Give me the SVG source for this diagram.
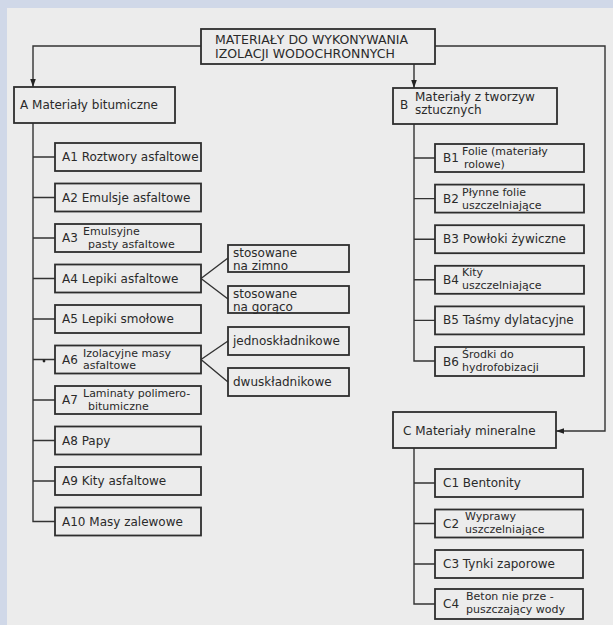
<svg xmlns="http://www.w3.org/2000/svg" width="613" height="625" viewBox="0 0 613 625">
<defs>
<style>
.bx{fill:none;stroke:#2e2e2e;stroke-width:1.8}
.ln{fill:none;stroke:#333;stroke-width:1.4}
text{font-family:"DejaVu Sans","Liberation Sans",sans-serif;fill:#2a2a2a;font-size:12px}
.s{font-size:11px}
.t{font-size:12.5px}
</style>
<marker id="ar" viewBox="0 0 10 10" refX="10" refY="5" markerWidth="8" markerHeight="8" markerUnits="userSpaceOnUse" orient="auto">
<path d="M0,1.5 L10,5 L0,8.5 Z" fill="#222"/>
</marker>
</defs>
<rect x="0" y="0" width="613" height="625" fill="#d0d8e8"/>
<rect x="7" y="8" width="606" height="617" fill="#ececec"/>

<g id="connectors">
<path class="ln" d="M201,46 H33 V87" marker-end="url(#ar)"/>
<path class="ln" d="M435,46 H605 V431 H556" marker-end="url(#ar)"/>
<path class="ln" d="M414,64 V88" marker-end="url(#ar)"/>
<path class="ln" d="M33,123 V521.5 H55"/>
<path class="ln" d="M33,157 H55 M33,197.5 H55 M33,238 H55 M33,278.5 H55 M33,319 H55 M33,359.5 H55 M33,400 H55 M33,440.5 H55 M33,481 H55"/>
<circle cx="44" cy="361" r="1.4" fill="#222"/>
<path class="ln" d="M201,278.5 L228,258 M201,278.5 L228,299"/>
<path class="ln" d="M201,359.5 L228,341 M201,359.5 L228,382"/>
<path class="ln" d="M414,124 V361 H435"/>
<path class="ln" d="M414,158 H435 M414,198.6 H435 M414,239.2 H435 M414,279.8 H435 M414,320.4 H435"/>
<path class="ln" d="M414,448 V604 H435"/>
<path class="ln" d="M414,483 H435 M414,523.5 H435 M414,564 H435"/>
</g>

<g id="root"><rect class="bx" x="201" y="29" width="234" height="35"/>
<text class="t" x="215" y="44">MATERIAŁY DO WYKONYWANIA</text>
<text class="t" x="215" y="58">IZOLACJI WODOCHRONNYCH</text></g>

<g id="A"><rect class="bx" x="14" y="87" width="161" height="36"/>
<text x="20" y="109">A Materiały bitumiczne</text></g>

<g id="A1"><rect class="bx" x="55" y="143" width="146" height="28"/>
<text x="62" y="161">A1 Roztwory asfaltowe</text></g>
<g id="A2"><rect class="bx" x="55" y="183.5" width="146" height="28"/>
<text x="62" y="202">A2 Emulsje asfaltowe</text></g>
<g id="A3"><rect class="bx" x="55" y="224" width="146" height="28"/>
<text x="62" y="242">A3</text><text class="s" x="83" y="235">Emulsyjne</text><text class="s" x="88" y="248">pasty asfaltowe</text></g>
<g id="A4"><rect class="bx" x="55" y="264.5" width="146" height="28"/>
<text x="62" y="283">A4 Lepiki asfaltowe</text></g>
<g id="A5"><rect class="bx" x="55" y="305" width="146" height="28"/>
<text x="62" y="323">A5 Lepiki smołowe</text></g>
<g id="A6"><rect class="bx" x="55" y="345.5" width="146" height="28"/>
<text x="62" y="364">A6</text><text class="s" x="83" y="357">Izolacyjne masy</text><text class="s" x="83" y="369">asfaltowe</text></g>
<g id="A7"><rect class="bx" x="55" y="386" width="146" height="28"/>
<text x="62" y="404">A7</text><text class="s" x="83" y="397">Laminaty polimero-</text><text class="s" x="88" y="410">bitumiczne</text></g>
<g id="A8"><rect class="bx" x="55" y="426.5" width="146" height="28"/>
<text x="62" y="445">A8 Papy</text></g>
<g id="A9"><rect class="bx" x="55" y="467" width="146" height="28"/>
<text x="62" y="485">A9 Kity asfaltowe</text></g>
<g id="A10"><rect class="bx" x="55" y="507.5" width="146" height="28"/>
<text x="62" y="526">A10 Masy zalewowe</text></g>

<g id="A4a"><rect class="bx" x="228" y="245" width="121" height="27"/>
<text x="233" y="256.5" font-size="11.5">stosowane</text><text x="233" y="269.5" font-size="11.5">na zimno</text></g>
<g id="A4b"><rect class="bx" x="228" y="286" width="121" height="27"/>
<text x="233" y="297.5" font-size="11.5">stosowane</text><text x="233" y="310.5" font-size="11.5">na gorąco</text></g>
<g id="A6a"><rect class="bx" x="228" y="327" width="121" height="28"/>
<text x="233" y="345">jednoskładnikowe</text></g>
<g id="A6b"><rect class="bx" x="228" y="368" width="121" height="28"/>
<text x="233" y="386">dwuskładnikowe</text></g>

<g id="B"><rect class="bx" x="393" y="88" width="164" height="36"/>
<text x="400" y="109">B</text><text x="415" y="101">Materiały z tworzyw</text><text x="415" y="114">sztucznych</text></g>

<g id="B1"><rect class="bx" x="435" y="144" width="149" height="28"/>
<text x="443" y="162">B1</text><text class="s" x="462" y="155">Folie (materiały</text><text class="s" x="464" y="168">rolowe)</text></g>
<g id="B2"><rect class="bx" x="435" y="184.6" width="149" height="28"/>
<text x="443" y="203">B2</text><text class="s" x="462" y="196">Płynne folie</text><text class="s" x="462" y="209">uszczelniające</text></g>
<g id="B3"><rect class="bx" x="435" y="225.2" width="149" height="28"/>
<text x="443" y="243">B3 Powłoki żywiczne</text></g>
<g id="B4"><rect class="bx" x="435" y="265.8" width="149" height="28"/>
<text x="443" y="284">B4</text><text class="s" x="462" y="276">Kity</text><text class="s" x="462" y="289">uszczelniające</text></g>
<g id="B5"><rect class="bx" x="435" y="306.4" width="149" height="28"/>
<text x="443" y="324">B5 Taśmy dylatacyjne</text></g>
<g id="B6"><rect class="bx" x="435" y="347" width="149" height="29"/>
<text x="443" y="366">B6</text><text class="s" x="462" y="358">Środki do</text><text class="s" x="462" y="371">hydrofobizacji</text></g>

<g id="C"><rect class="bx" x="393" y="412" width="163" height="36"/>
<text x="403" y="435">C Materiały mineralne</text></g>

<g id="C1"><rect class="bx" x="435" y="469" width="148" height="28"/>
<text x="443" y="487">C1 Bentonity</text></g>
<g id="C2"><rect class="bx" x="435" y="509.5" width="148" height="28"/>
<text x="443" y="528">C2</text><text class="s" x="465" y="520">Wyprawy</text><text class="s" x="465" y="533">uszczelniające</text></g>
<g id="C3"><rect class="bx" x="435" y="550" width="148" height="28"/>
<text x="443" y="568">C3 Tynki zaporowe</text></g>
<g id="C4"><rect class="bx" x="435" y="589" width="148" height="30"/>
<text x="443" y="608">C4</text><text class="s" x="466" y="600">Beton nie prze -</text><text class="s" x="466" y="613">puszczający wody</text></g>
</svg>
